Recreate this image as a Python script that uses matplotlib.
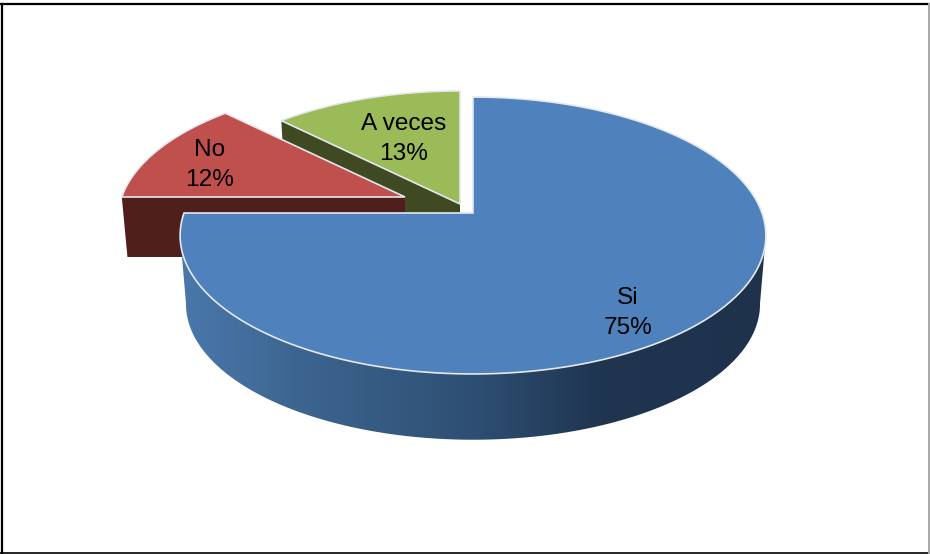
import numpy as np
import matplotlib
matplotlib.use('Agg')
import matplotlib.pyplot as plt
from matplotlib.colors import LinearSegmentedColormap
from matplotlib.patches import Polygon

# Shares as drawn: both small slices are 45 degrees, the labels round them to 12 and 13
categories = ['Si', 'No', 'A veces']
values = [75, 12.5, 12.5]
pct_labels = ['75%', '12%', '13%']

top_colors = ['#4F81BD', '#C0504D', '#9BBB59']
side_colors = ['#1F3550', '#4F1F1C', '#3F4A22']
edge_color = '#E4E8EE'

# Pixel layout of the slices
apex_x = [473, 405, 460]
apex_y = [213, 197, 204]
slice_scale = [1.0, 0.98, 0.975]
slice_depth = [69, 60, 60]
label_x = [628, 210, 404]
label_y = [313, 165, 139]

radius_x = 289
radius_y = 134.8
persp = 0.1625
bottom_shrink = 0.02


def project(theta, i, z=0):
    """Angle clockwise from 12 o'clock to picture coords, z=1 is the bottom rim"""
    u = np.sin(theta)
    v = np.cos(theta)
    w = 1 + persp * v
    s = slice_scale[i] * (1 - bottom_shrink * z)
    x = apex_x[i] + radius_x * s * u / w
    y = apex_y[i] + slice_depth[i] * z - radius_y * s * v / w
    return x, y


def slice_angles():
    fractions = np.array(values) / np.sum(values)
    ends = np.cumsum(fractions) * 2 * np.pi
    starts = ends - fractions * 2 * np.pi
    return starts, ends


def draw_top(ax, i, start, end, zorder):
    theta = np.linspace(start, end, 200)
    x, y = project(theta, i)
    pts = np.column_stack([np.r_[apex_x[i], x], np.r_[apex_y[i], y]])
    ax.add_patch(Polygon(pts, closed=True, facecolor=top_colors[i],
                         edgecolor=edge_color, linewidth=1.2, zorder=zorder))


def draw_cut_face(ax, i, theta, zorder):
    """Flat dark face of an exploded slice, from apex to the rim at angle theta"""
    x0, y0 = project(theta, i)
    x1, y1 = project(theta, i, 1)
    pts = [(apex_x[i], apex_y[i]), (x0, y0), (x1, y1),
           (apex_x[i], apex_y[i] + slice_depth[i])]
    ax.add_patch(Polygon(pts, closed=True, facecolor=side_colors[i],
                         edgecolor='none', zorder=zorder))


def draw_blue_side(ax, zorder):
    """Front wall of the big slice, shaded left to right"""
    # 99 and 261 degrees are where the rim is widest, so the wall's ends are tangent
    theta = np.radians(np.linspace(99, 261, 300))
    xt, yt = project(theta, 0)
    xb, yb = project(theta, 0, 1)
    pts = np.column_stack([np.r_[xt, xb[::-1]], np.r_[yt, yb[::-1]]])
    clip = Polygon(pts, closed=True, facecolor='none', edgecolor='none')
    ax.add_patch(clip)
    cmap = LinearSegmentedColormap.from_list('side', [
        (0.0, '#4A78AC'), (0.2, '#3D6590'), (0.5, '#2E4F73'),
        (0.72, '#1F3550'), (1.0, '#1E324C')])
    grad = np.linspace(0, 1, 512).reshape(1, -1)
    im = ax.imshow(grad, cmap=cmap, aspect='auto', zorder=zorder,
                   extent=(xt.min(), xt.max(), yb.max(), yt.min()))
    im.set_clip_path(clip)


fig = plt.figure(figsize=(9.3, 5.54), dpi=100)
ax = fig.add_axes([0, 0, 1, 1])
ax.set_xlim(0, 930)
ax.set_ylim(554, 0)
ax.axis('off')

starts, ends = slice_angles()

# back to front: green, red, blue
draw_cut_face(ax, 2, starts[2], 1)
draw_top(ax, 2, starts[2], ends[2], 2)
draw_cut_face(ax, 1, starts[1], 3)
draw_top(ax, 1, starts[1], ends[1], 4)
draw_blue_side(ax, 5)
draw_top(ax, 0, starts[0], ends[0], 6)
ax.set_xlim(0, 930)
ax.set_ylim(554, 0)

for i in range(len(categories)):
    ax.text(label_x[i], label_y[i], categories[i] + '\n' + pct_labels[i],
            ha='center', va='center', fontsize=17.6, linespacing=1.42,
            family='Liberation Sans', color='black', zorder=10)

# outer frame
ax.plot([2, 2], [4, 554], color='black', lw=1.6, zorder=11)
ax.plot([1, 930], [4, 4], color='black', lw=1.6, zorder=11)
ax.plot([0, 930], [553.4, 553.4], color='black', lw=1.2, zorder=11)
ax.plot([929, 929], [4, 554], color='#A8A8A8', lw=1.4, zorder=11)

fig.savefig('out.png', dpi=100)
